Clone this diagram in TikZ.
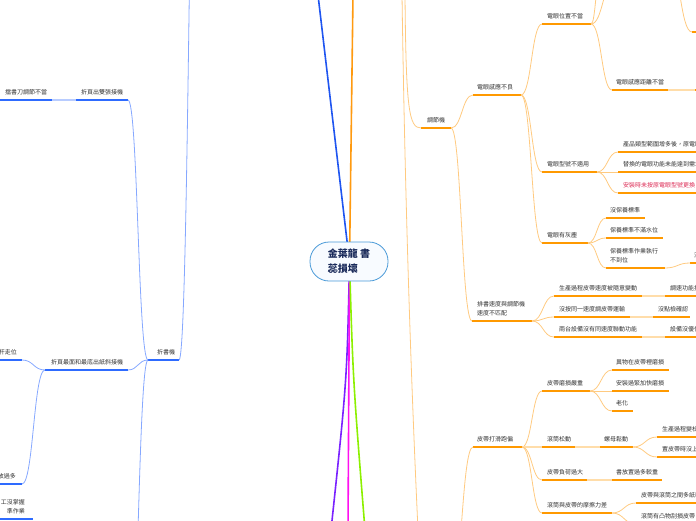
\documentclass[tikz,border=0pt]{standalone}
\usepackage{fontspec}
\newfontfamily\cjk{Noto Sans CJK TC}
\usetikzlibrary{calc}
\definecolor{ob}{HTML}{FF9900}
\definecolor{oc}{HTML}{FFCA80}
\definecolor{og}{HTML}{FFDDAA}
\definecolor{bb}{HTML}{2E6BFF}
\definecolor{bc}{HTML}{86A8FF}
\definecolor{bg}{HTML}{B8CCFF}
\definecolor{tx}{HTML}{333333}
\definecolor{rd}{HTML}{DC2C55}
\definecolor{mainB}{HTML}{1F55F0}
\definecolor{mainO}{HTML}{FF9A10}
\definecolor{mainP}{HTML}{7A22FF}
\definecolor{mainM}{HTML}{FF10F0}
\definecolor{mainG}{HTML}{8CF000}
\definecolor{cb}{HTML}{4A9AD8}
\definecolor{cf}{HTML}{F8FBFF}
\definecolor{ct}{HTML}{1A2A5A}
\newcommand\topic[7][ulO]{%
  \coordinate (#2S) at (#3,#5);
  \coordinate (#2E) at (#4,#5);
  \draw[#1] (#2S) -- (#2E);
  \node[lbl] (#2) at (#6,#5-5.7) {#7};}
\newcommand\conn[3][cnO]{%
  \draw[#1] let \p1=(#2), \p2=(#3) in (\p1) .. controls ({(\x1+\x2)/2},\y1) and ({(\x1+\x2)/2},\y2) .. (\p2);}
\begin{document}
\begin{tikzpicture}[x=1pt,y=-1pt,
  ulO/.style={draw=ob,line width=1.5pt},
  cnO/.style={draw=oc,line width=0.8pt},
  gapO/.style={draw=og,line width=1.3pt},
  ulB/.style={draw=bb,line width=1.5pt},
  cnB/.style={draw=bc,line width=0.8pt},
  gapB/.style={draw=bg,line width=1.3pt},
  lbl/.style={inner sep=0pt,anchor=south west,text depth=0pt,font=\cjk\fontsize{6}{9}\selectfont,text=tx,align=left},
  mainline/.style={line width=1.6pt},
  centre/.style={draw=cb,line width=0.8pt,fill=cf,rounded corners=19pt,minimum width=78pt,minimum height=39pt,align=left,inner sep=0pt,font=\cjk\bfseries\fontsize{10}{15}\selectfont,text=ct}]
\useasboundingbox (0,0) rectangle (696,520);
\clip (0,0) rectangle (696,520);

% ---------- main branches from the centre ----------
\coordinate (cc) at (349.5,262);
\coordinate (bTop) at (318,-5);
\coordinate (oTop) at (353,-5);
\coordinate (pBot) at (331,530);
\coordinate (mBot) at (348,530);
\coordinate (gBot) at (365,530);
\draw[mainline,mainB] (cc) -- (bTop);
\draw[mainline,mainO] (cc) -- (oTop);
\draw[mainline,mainP] (cc) .. controls (347,380) .. (pBot);
\draw[mainline,mainM] (cc) -- (mBot);
\draw[mainline,mainG] (cc) .. controls (353,380) .. (gBot);

% ---------- left (blue) side ----------
\topic[ulB]{zsj}{148}{179}{360}{157}{折書機}
\topic[ulB]{sz}{76}{128}{100}{81}{折頁出雙張接機}
\topic[ulB]{dsd}{-30}{52}{100}{5}{擋書刀調節不當}
\topic[ulB]{zm}{45}{128}{370}{51}{折頁最面和最底出紙斜接機}
\coordinate (gzE) at (22,360);
\draw[ulB] (-30,360) -- (gzE);
\node[lbl,anchor=south east] (gz) at (17,354.3) {杆走位};
\coordinate (fgE) at (22,484);
\draw[ulB] (-30,484) -- (fgE);
\node[lbl,anchor=south east] (fg) at (16,478.3) {放過多};
\coordinate (ygE) at (33,519);
\draw[ulB] (-30,519) -- (ygE);
\node[lbl,anchor=south east,align=right] (yg) at (25,513.5) {工沒掌握\\準作業};
\coordinate (bAbove) at (200,-400);
\coordinate (bBelow) at (128,700);
\conn[cnB]{bAbove}{zsjE}
\conn[cnB]{szE}{zsjS}
\conn[cnB]{zmE}{zsjS}
\conn[cnB]{bBelow}{zsjS}
\draw[gapB] (dsdE) -- (szS);
\conn[cnB]{gzE}{zmS}
\conn[cnB]{fgE}{zmS}

% ---------- right (orange) side ----------
\coordinate (oT1) at (402,-5);
\coordinate (oB1) at (418,530);
\draw[cnO] (oT1) .. controls (405,200) and (411,380) .. (oB1);
\topic{tj}{421}{451}{128}{427}{調節機}
\coordinate (oT2) at (405,-5);
\draw[cnO] (oT2) .. controls (406,110) and (409,128) .. (tjS);

\topic{dg}{473}{521}{95}{477}{電眼感應不良}
\topic{dw}{542}{591}{24}{547}{電眼位置不當}
\coordinate (dwc1) at (600,-20);
\coordinate (dwc2) at (615,-20);
\conn{dwE}{dwc1}
\conn{dwE}{dwc2}
\topic{dj}{612}{668}{90}{616}{電眼感應距離不當}
\coordinate (djc) at (695,90);
\draw[gapO] (djE) -- (djc);
\draw[ulO] (djc) -- (720,90);
\coordinate (trP) at (668,-40);
\coordinate (trS) at (692,32);
\draw[ulO] (trS) -- (720,32);
\conn{trP}{trS}

\topic{dx}{542}{597}{172}{547}{電眼型號不適用}
\topic{cp}{618}{720}{152}{623}{產品類型範圍增多後，原電眼}
\topic{th}{618}{720}{172}{623}{替換的電眼功能未能達到需求}
\topic{az}{618}{720}{193}{623}{\textcolor{rd}{安裝時未按原電眼型號更換}}
\topic{dh}{542}{588}{243}{547}{電眼有灰塵}
\topic{mb}{606}{645}{218}{610}{沒保養標準}
\topic{bm}{606}{663}{238}{610}{保養標準不滿水位}
\topic{bz}{606}{665}{268}{610}{保養標準作業執行\\不到位}
\topic{mz}{690}{720}{263}{694}{沒}

\topic{pc}{472}{532}{321}{477}{排書速度與調節機\\速度不匹配}

\conn{tjE}{dgS}
\conn{tjE}{pcS}
\conn{dgE}{dwS}
\conn{dgE}{dxS}
\conn{dgE}{dhS}
\conn{dwE}{djS}
\conn{dxE}{cpS}
\draw[cnO] (dxE) -- (thS);
\conn{dxE}{azS}
\conn{dhE}{mbS}
\conn{dhE}{bmS}
\conn{dhE}{bzS}
\conn{bzE}{mzS}

\topic{sc}{554}{642}{296}{559}{生產過程皮帶速度被隨意變動}
\topic{ts}{665}{720}{296}{670}{調速功能損壞}
\topic{ma}{554}{630}{317}{559}{沒按同一速度調皮帶運輸}
\topic{md}{653}{690}{317}{658}{沒點檢確認}
\topic{lt}{554}{642}{337}{559}{兩台設備沒有同速度聯動功能}
\topic{sb}{665}{720}{337}{670}{設備沒優化}
\conn{pcE}{scS}
\conn{pcE}{maS}
\conn{pcE}{ltS}
\draw[gapO] (scE) -- (tsS);
\draw[gapO] (maE) -- (mdS);
\draw[gapO] (ltE) -- (sbS);

\topic{pd}{473}{522}{447}{477}{皮帶打滑跑偏}
\coordinate (pBelow) at (450,600);
\conn{pBelow}{pdS}
\topic{mh}{542}{590}{391}{547}{皮帶磨損嚴重}
\topic{yw}{612}{669}{370}{616}{異物在皮帶裡磨損}
\topic{ag}{612}{669}{391}{616}{安裝過緊加快磨損}
\topic{lh}{612}{633}{411}{616}{老化}
\topic{gd}{542}{575}{447}{547}{滾筒松動}
\topic{lm}{600}{633}{447}{604}{螺母鬆動}
\topic{sp}{657}{720}{437}{662}{生產過程變松動}
\topic{zp}{657}{720}{457}{662}{置皮帶時沒上緊}
\topic{fh}{542}{587}{480}{547}{皮帶負荷過大}
\topic{sf}{612}{662}{480}{616}{書放置過多較重}
\topic{mc}{542}{612}{513}{547}{滾筒與皮帶的摩擦力差}
\topic{pj}{636}{720}{503}{641}{皮帶與滾筒之間多紙粉}
\topic{gt}{636}{720}{524}{641}{滾筒有凸物刮損皮帶}
\conn{pdE}{mhS}
\draw[gapO] (pdE) -- (gdS);
\conn{pdE}{fhS}
\conn{pdE}{mcS}
\conn{mhE}{ywS}
\draw[cnO] (mhE) -- (agS);
\conn{mhE}{lhS}
\draw[gapO] (gdE) -- (lmS);
\conn{lmE}{spS}
\conn{lmE}{zpS}
\draw[gapO] (fhE) -- (sfS);
\conn{mcE}{pjS}
\conn{mcE}{gtS}

% ---------- centre ----------
\node[centre] (cen) at (349,261.5) {金葉龍 書\\蕊損壞};
\end{tikzpicture}
\end{document}
